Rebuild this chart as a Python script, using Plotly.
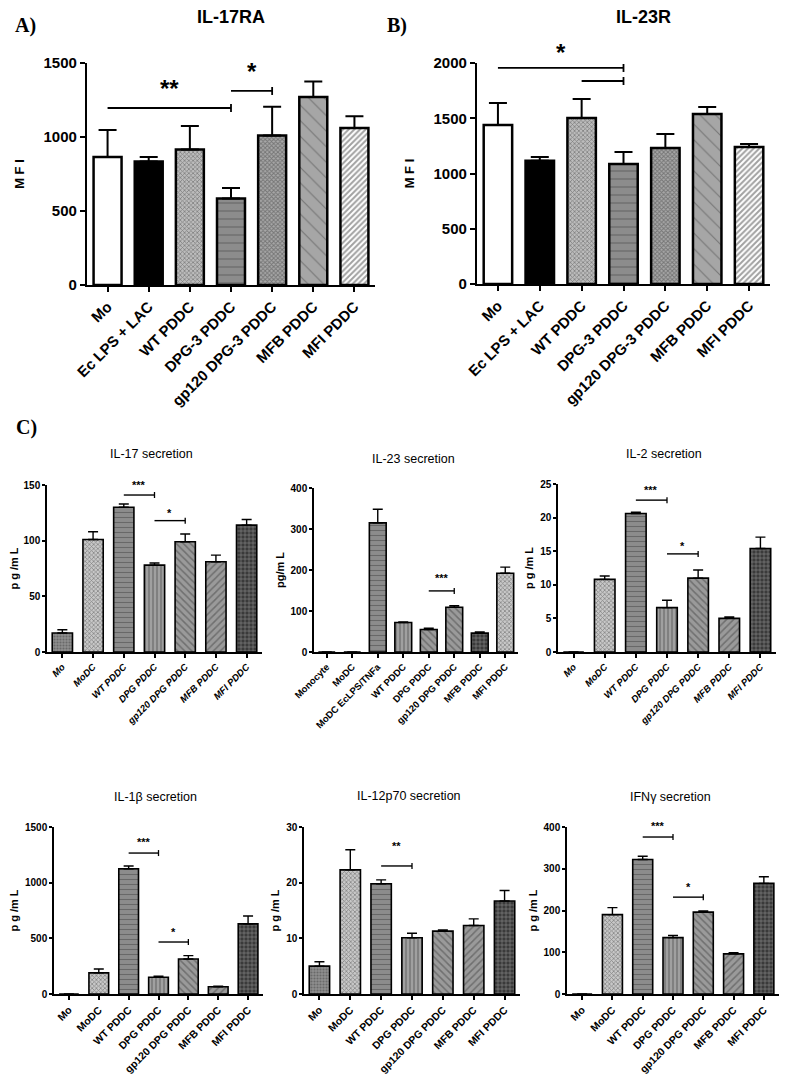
import plotly.graph_objects as go

W, H = 787, 1077
OFF = 8                      # page body margin of the html page
FW, FH = W - OFF, H - OFF    # figure size so that it ends at the window edge

# ---------------- data ----------------
ab_cats = ["Mo", "Ec LPS + LAC", "WT PDDC", "DPG-3 PDDC", "gp120 DPG-3 PDDC", "MFB PDDC", "MFI PDDC"]
il17ra_mean = [865, 835, 915, 585, 1010, 1270, 1060]
il17ra_sem = [182, 30, 160, 70, 195, 105, 80]
il17ra_sig = [(0, 3, 1196, "**"), (3, 4, 1311, "*")]

il23r_mean = [1439, 1116, 1502, 1086, 1231, 1538, 1240]
il23r_sem = [199, 33, 172, 109, 126, 64, 27]
il23r_sig = [(0, 3, 1955, "*"), (2, 3, 1837, "")]

c_cats = ["Mo", "MoDC", "WT PDDC", "DPG PDDC", "gp120 DPG PDDC", "MFB PDDC", "MFI PDDC"]
il23_cats = ["Monocyte", "MoDC", "MoDC EcLPS/TNFa", "WT PDDC", "DPG PDDC", "gp120 DPG PDDC", "MFB PDDC", "MFI PDDC"]

il17_mean = [17, 101, 130, 78, 99, 81, 114]
il17_sem = [3, 7, 3, 2, 7, 6, 5]
il17_sig = [(2, 3, 141, "***"), (3, 4, 118, "*")]

il23_mean = [0, 0, 315, 72, 55, 109, 46, 192]
il23_sem = [0, 0, 33, 1, 3, 4, 3, 15]
il23_sig = [(4, 5, 149, "***")]

il2_mean = [0, 10.8, 20.6, 6.6, 11.0, 5.0, 15.4]
il2_sem = [0, 0.5, 0.2, 1.1, 1.2, 0.2, 1.7]
il2_sig = [(2, 3, 22.6, "***"), (3, 4, 14.6, "*")]

il1b_mean = [0, 190, 1125, 150, 315, 65, 630]
il1b_sem = [0, 35, 25, 10, 30, 5, 70]
il1b_sig = [(2, 3, 1266, "***"), (3, 4, 467, "*")]

il12_mean = [5.0, 22.3, 19.8, 10.1, 11.3, 12.3, 16.7]
il12_sem = [0.8, 3.6, 0.7, 0.8, 0.2, 1.2, 1.9]
il12_sig = [(2, 3, 23.0, "**")]

ifng_mean = [0, 190, 322, 135, 196, 96, 265]
ifng_sem = [0, 17, 8, 5, 3, 3, 16]
ifng_sig = [(2, 3, 376, "***"), (3, 4, 232, "*")]

# ---------------- styles ----------------
# color = background, fg = pattern colour (overlay mode)
FILLS = {
    "white": dict(color="white", shape="", fg="white", size=8, sol=0.3),
    "black": dict(color="black", shape="", fg="black", size=8, sol=0.3),
    "checkA": dict(color="#bcbcbc", shape="x", fg="#111", size=3, sol=0.45),
    "checkA2": dict(color="#a8a8a8", shape="x", fg="#000", size=3, sol=0.55),
    "hstripeA": dict(color="#8c8c8c", shape="-", fg="white", size=8, sol=0.15),
    "bdiagA": dict(color="#a6a6a6", shape="\\", fg="#4a4a4a", size=11, sol=0.1),
    "fdiagA": dict(color="white", shape="/", fg="#222", size=4, sol=0.5),
    "grayDots": dict(color="#8e8e8e", shape=".", fg="#5a5a5a", size=3, sol=0.4),
    "checkC": dict(color="#c8c8c8", shape="x", fg="#222", size=3, sol=0.45),
    "hstripeC": dict(color="#8c8c8c", shape="-", fg="white", size=5, sol=0.22),
    "vstripeC": dict(color="#a0a0a0", shape="|", fg="#333", size=4, sol=0.35),
    "bdiagC": dict(color="#9a9a9a", shape="\\", fg="#333", size=5, sol=0.3),
    "fdiagC": dict(color="#9a9a9a", shape="/", fg="#333", size=5, sol=0.3),
    "gridC": dict(color="#3a3a3a", shape="+", fg="#b0b0b0", size=4, sol=0.22),
}
ab_fills = ["white", "black", "checkA", "hstripeA", "checkA2", "bdiagA", "fdiagA"]
c_fills = ["grayDots", "checkC", "hstripeC", "vstripeC", "bdiagC", "fdiagC", "gridC"]
il23_fills = ["grayDots", "checkC", "hstripeC", "vstripeC", "bdiagC", "bdiagC", "gridC", "checkC"]

SANS = "Liberation Sans, Arial, sans-serif"
NARROW = "Liberation Sans Narrow, Arial Narrow, Liberation Sans, sans-serif"


def fx(px):
    return (px - OFF) / FW


def fy(py):
    return 1 - (py - OFF) / FH


def px_x(a, b):
    return [fx(a), fx(b)]


def px_y(top, bottom):
    return [fy(bottom), fy(top)]


panels = [
    dict(cats=ab_cats, mean=il17ra_mean, sem=il17ra_sem, sig=il17ra_sig, fills=ab_fills,
         xd=(87, 375), yd=(63, 285), ymax=1500, dtick=500, title="IL-17RA", big=True,
         ytitle="M F I", star_dy=[19, 19], italic=False, row2=False),
    dict(cats=ab_cats, mean=il23r_mean, sem=il23r_sem, sig=il23r_sig, fills=ab_fills,
         xd=(477, 770), yd=(63, 284), ymax=2000, dtick=500, title="IL-23R", big=True,
         ytitle="M F I", star_dy=[15, 15], italic=False, row2=False),
    dict(cats=c_cats, mean=il17_mean, sem=il17_sem, sig=il17_sig, fills=c_fills,
         xd=(47, 262), yd=(485, 652), ymax=150, dtick=50, title="IL-17 secretion", big=False,
         ytitle="p g /m L", star_dy=[10, 8], italic=True, ty=454, row2=False),
    dict(cats=il23_cats, mean=il23_mean, sem=il23_sem, sig=il23_sig, fills=il23_fills,
         xd=(314, 518), yd=(488, 652), ymax=400, dtick=100, title="IL-23 secretion", big=False,
         ytitle="pg/m L", star_dy=[13], italic=False, ty=459, row2=False),
    dict(cats=c_cats, mean=il2_mean, sem=il2_sem, sig=il2_sig, fills=c_fills,
         xd=(558, 776), yd=(484, 652), ymax=25, dtick=5, title="IL-2 secretion", big=False,
         ytitle="p g /m L", star_dy=[10, 8], italic=True, ty=454, row2=False),
    dict(cats=c_cats, mean=il1b_mean, sem=il1b_sem, sig=il1b_sig, fills=c_fills,
         xd=(54, 263), yd=(827, 994), ymax=1500, dtick=500, title="IL-1β secretion", big=False,
         ytitle="p g /m L", star_dy=[11, 10], italic=False, ty=797, row2=True),
    dict(cats=c_cats, mean=il12_mean, sem=il12_sem, sig=il12_sig, fills=c_fills,
         xd=(304, 520), yd=(827, 994), ymax=30, dtick=10, title="IL-12p70 secretion", big=False,
         ytitle="p g /m L", star_dy=[20], italic=False, ty=796, row2=True),
    dict(cats=c_cats, mean=ifng_mean, sem=ifng_sem, sig=ifng_sig, fills=c_fills,
         xd=(567, 779), yd=(827, 994), ymax=400, dtick=100, title="IFNγ secretion", big=False,
         ytitle="p g /m L", star_dy=[11, 10], italic=False, ty=797, row2=True),
]

fig = go.Figure()
shapes = []
annotations = []
layout = {}

for i, p in enumerate(panels, start=1):
    xa, ya = f"x{i}", f"y{i}"
    xk, yk = ("xaxis" if i == 1 else f"xaxis{i}"), ("yaxis" if i == 1 else f"yaxis{i}")
    big = p["big"]
    f = [FILLS[k] for k in p["fills"]]
    n = len(p["cats"])
    fig.add_trace(go.Bar(
        x=p["cats"], y=p["mean"], xaxis=xa, yaxis=ya, width=0.68 if big else 0.66,
        marker=dict(
            color=[s["color"] for s in f],
            line=dict(color="black", width=2.5 if big else 1.6),
            pattern=dict(shape=[s["shape"] for s in f],
                         fgcolor=[s["fg"] for s in f], size=[s["size"] for s in f],
                         solidity=[s["sol"] for s in f], fillmode="overlay"),
        ),
        error_y=dict(type="data", array=p["sem"], arrayminus=[0] * n, symmetric=False,
                     color="black", thickness=2 if big else 1.4, width=9 if big else 5),
        showlegend=False, hoverinfo="skip",
    ))
    lw = 2.2 if big else 1.5
    layout[xk] = dict(
        domain=px_x(*p["xd"]), anchor=ya, type="category", range=[-0.5, n - 0.5],
        automargin=False,
        showline=True, linecolor="black", linewidth=lw, ticks="outside", ticklen=5 if big else 4,
        tickwidth=lw, tickcolor="black", tickangle=-45, showgrid=False, zeroline=False,
        tickfont=dict(family=SANS, size=15 if big else (10.5 if p["row2"] else 9.5),
                      color="black", weight="bold",
                      style="italic" if p["italic"] else "normal"),
    )
    layout[yk] = dict(
        domain=px_y(*p["yd"]), anchor=xa, range=[0, p["ymax"]], dtick=p["dtick"], tick0=0,
        automargin=False,
        showline=True, linecolor="black", linewidth=lw, ticks="outside", ticklen=5 if big else 3,
        tickwidth=lw, tickcolor="black", showgrid=False, zeroline=False,
        tickfont=dict(family=SANS if big else NARROW, size=15 if big else 10, color="black", weight="bold"),
        title=dict(text=p["ytitle"], standoff=16 if big else 4,
                   font=dict(family=SANS if big else NARROW, size=13 if big else 11,
                             color="black", weight="bold")),
    )
    # significance brackets
    for (i0, i1, lev, lab), dy in zip(p["sig"], p["star_dy"]):
        shapes.append(dict(type="line", xref=xa, yref=ya, x0=i0, x1=i1, y0=lev, y1=lev,
                           line=dict(color="black", width=1.8 if big else 1.4)))
        shapes.append(dict(type="line", xref=xa, yref=ya, x0=i1, x1=i1, ysizemode="pixel",
                           yanchor=lev, y0=-4 if big else -3, y1=4 if big else 3,
                           line=dict(color="black", width=1.8 if big else 1.3)))
        if lab:
            annotations.append(dict(x=(i0 + i1) / 2, y=lev, xref=xa, yref=ya, text=lab,
                                    showarrow=False, yanchor="middle", yshift=dy,
                                    font=dict(family=SANS, size=24 if big else 11,
                                              color="black", weight="bold")))
    # panel title
    xc = (p["xd"][0] + p["xd"][1]) / 2
    if big:
        annotations.append(dict(x=fx(xc + 20) if i == 2 else fx(xc), y=fy(17),
                                xref="paper", yref="paper", text=p["title"], showarrow=False,
                                xanchor="center", yanchor="middle",
                                font=dict(family=SANS, size=18, color="black", weight="bold")))
    else:
        annotations.append(dict(x=fx(xc - 3), y=fy(p["ty"]), xref="paper", yref="paper",
                                text=p["title"], showarrow=False, xanchor="center", yanchor="middle",
                                font=dict(family=NARROW, size=12.5, color="black")))

for lab, x, y in [("A)", 25, 25), ("B)", 397, 25), ("C)", 26, 427)]:
    annotations.append(dict(x=fx(x), y=fy(y), xref="paper", yref="paper", text=lab,
                            showarrow=False, xanchor="center", yanchor="middle",
                            font=dict(family="Liberation Serif, Times New Roman, serif", size=20,
                                      color="black", weight="bold")))

fig.update_layout(
    template="none",
    width=FW, height=FH, margin=dict(l=0, r=0, t=0, b=0, autoexpand=False),
    paper_bgcolor="white", plot_bgcolor="white",
    shapes=shapes, annotations=annotations, bargap=0.3,
    **layout,
)

fig.write_html("out.html")
